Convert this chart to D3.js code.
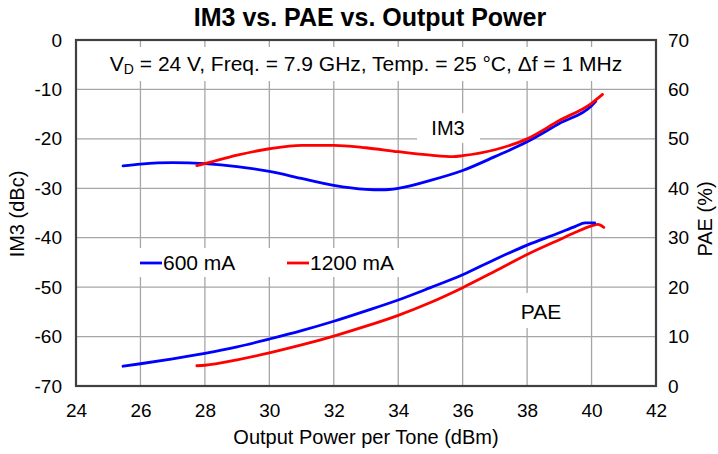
<!DOCTYPE html>
<html>
<head>
<meta charset="utf-8">
<script src="https://cdn.jsdelivr.net/npm/d3@7/dist/d3.min.js"></script>
<style>
  html, body { margin: 0; padding: 0; background: #fff; }
  svg { display: block; font-family: "Liberation Sans", Arial, sans-serif; }
</style>
</head>
<body>
<svg id="chart" width="718" height="454"></svg>
<script>
// Output power per tone (dBm) and measured IM3 (dBc) / PAE (%) for two bias currents
const im3X600  = [25.46, 26, 27, 28, 29, 30, 31, 32, 33, 33.5, 34, 35, 36, 37, 38, 39, 40, 40.13];
const im3Y600  = [-25.45, -25.1, -24.8, -25.0, -25.6, -26.6, -28.0, -29.4, -30.2, -30.3, -30.0, -28.4, -26.4, -23.6, -20.6, -16.9, -13.3, -12.4];
const im3X1200 = [27.75, 28, 29, 30, 31, 32, 33, 34, 35, 35.7, 36, 37, 38, 39, 40, 40.34];
const im3Y1200 = [-25.4, -25.0, -23.3, -22.0, -21.3, -21.3, -21.8, -22.6, -23.3, -23.6, -23.4, -22.2, -20.0, -16.3, -12.8, -11.0];
const paeX600  = [25.46, 26, 27, 28, 29, 30, 31, 32, 33, 34, 35, 36, 37, 38, 39, 39.5, 39.8, 40.1];
const paeY600  = [4.0, 4.5, 5.5, 6.6, 7.9, 9.5, 11.2, 13.1, 15.2, 17.4, 19.9, 22.5, 25.6, 28.5, 31.0, 32.3, 33.0, 33.0];
const paeX1200 = [27.75, 28, 29, 30, 31, 32, 33, 34, 35, 36, 37, 38, 39, 39.5, 40, 40.2, 40.38];
const paeY1200 = [4.1, 4.2, 5.3, 6.7, 8.3, 10.1, 12.1, 14.3, 16.9, 19.9, 23.2, 26.6, 29.6, 31.1, 32.4, 32.7, 32.1];

const xTicks  = [24, 26, 28, 30, 32, 34, 36, 38, 40, 42];
const yLTicks = [0, -10, -20, -30, -40, -50, -60, -70];
const yRTicks = [0, 10, 20, 30, 40, 50, 60, 70];
const seriesNames  = ["600 mA", "1200 mA"];
const seriesColors = ["#0000ff", "#ff0000"];

const svg = d3.select("#chart");
const L = 76, R = 656, T = 40, B = 386;

const x  = d3.scaleLinear().domain([24, 42]).range([L, R]);
const yL = d3.scaleLinear().domain([-70, 0]).range([B, T]);
const yR = d3.scaleLinear().domain([0, 70]).range([B, T]);

// Gridlines
const grid = svg.append("g").attr("stroke", "#a6a6a6").attr("stroke-width", 1.3);
grid.selectAll("line.v").data(xTicks.slice(1, -1)).join("line")
  .attr("x1", d => x(d)).attr("x2", d => x(d)).attr("y1", T).attr("y2", B);
grid.selectAll("line.h").data(yLTicks.slice(1, -1)).join("line")
  .attr("x1", L).attr("x2", R).attr("y1", d => yL(d)).attr("y2", d => yL(d));

// White label backgrounds that mask the grid
const boxes = svg.append("g").attr("fill", "#fff");
boxes.append("rect").attr("x", L).attr("y", 47).attr("width", R - L).attr("height", 34);
boxes.append("rect").attr("x", 120).attr("y", 248).attr("width", 290).attr("height", 29);
boxes.append("rect").attr("x", 417).attr("y", 113).attr("width", 63).attr("height", 30);
boxes.append("rect").attr("x", 510).attr("y", 293).attr("width", 62).attr("height", 35);

// Curves
const pts = (xs, ys) => xs.map((v, i) => [v, ys[i]]);
const lineL = d3.line().x(d => x(d[0])).y(d => yL(d[1])).curve(d3.curveMonotoneX);
const lineR = d3.line().x(d => x(d[0])).y(d => yR(d[1])).curve(d3.curveMonotoneX);
const curves = svg.append("g").attr("fill", "none").attr("stroke-width", 2.8)
  .attr("stroke-linecap", "round").attr("stroke-linejoin", "round");
curves.append("path").attr("d", lineR(pts(paeX1200, paeY1200))).attr("stroke", seriesColors[1]);
curves.append("path").attr("d", lineR(pts(paeX600, paeY600))).attr("stroke", seriesColors[0]);
curves.append("path").attr("d", lineL(pts(im3X600, im3Y600))).attr("stroke", seriesColors[0]);
curves.append("path").attr("d", lineL(pts(im3X1200, im3Y1200))).attr("stroke", seriesColors[1]);

// Frame
svg.append("rect").attr("x", L).attr("y", T).attr("width", R - L).attr("height", B - T)
  .attr("fill", "none").attr("stroke", "#404040").attr("stroke-width", 2.2);

// Axes (labels only; the frame draws the lines)
const fmt = d => String(d);
const xAxis = svg.append("g").attr("transform", `translate(0,${B})`)
  .call(d3.axisBottom(x).tickValues(xTicks).tickFormat(fmt).tickSize(0).tickPadding(18));
const yAxisL = svg.append("g").attr("transform", `translate(${L},0)`)
  .call(d3.axisLeft(yL).tickValues(yLTicks).tickFormat(fmt).tickSize(0).tickPadding(14));
const yAxisR = svg.append("g").attr("transform", `translate(${R},0)`)
  .call(d3.axisRight(yR).tickValues(yRTicks).tickFormat(fmt).tickSize(0).tickPadding(12));
[xAxis, yAxisL, yAxisR].forEach(g => {
  g.select(".domain").remove();
  g.selectAll("text").attr("font-size", 19).attr("fill", "#000")
    .attr("font-family", "Liberation Sans, Arial, sans-serif");
});

// Titles
svg.append("text").attr("x", 370).attr("y", 26).attr("text-anchor", "middle")
  .attr("font-size", 25).attr("font-weight", "bold").text("IM3 vs. PAE vs. Output Power");
svg.append("text").attr("x", 366).attr("y", 444).attr("text-anchor", "middle")
  .attr("font-size", 20).text("Output Power per Tone (dBm)");
svg.append("text").attr("transform", `translate(24,214) rotate(-90)`).attr("text-anchor", "middle")
  .attr("font-size", 20).text("IM3 (dBc)");
svg.append("text").attr("transform", `translate(712,219) rotate(-90)`).attr("text-anchor", "middle")
  .attr("font-size", 20).text("PAE (%)");

// Conditions line
const cond = svg.append("text").attr("x", 366).attr("y", 71).attr("text-anchor", "middle").attr("font-size", 21);
cond.append("tspan").text("V");
cond.append("tspan").attr("font-size", 14).attr("dy", 3).text("D");
cond.append("tspan").attr("dy", -3).text(" = 24 V, Freq. = 7.9 GHz, Temp. = 25 °C, Δf = 1 MHz");

// Curve group labels
svg.append("text").attr("x", 448).attr("y", 135).attr("text-anchor", "middle").attr("font-size", 20).text("IM3");
svg.append("text").attr("x", 541).attr("y", 319).attr("text-anchor", "middle").attr("font-size", 21).text("PAE");

// Legend
const leg = svg.append("g");
const legX = [140, 287];
seriesNames.forEach((n, i) => {
  leg.append("line").attr("x1", legX[i]).attr("x2", legX[i] + 22).attr("y1", 263).attr("y2", 263)
    .attr("stroke", seriesColors[i]).attr("stroke-width", 2.8);
  leg.append("text").attr("x", legX[i] + 23).attr("y", 270).attr("font-size", 21).text(n);
});
</script>
</body>
</html>
